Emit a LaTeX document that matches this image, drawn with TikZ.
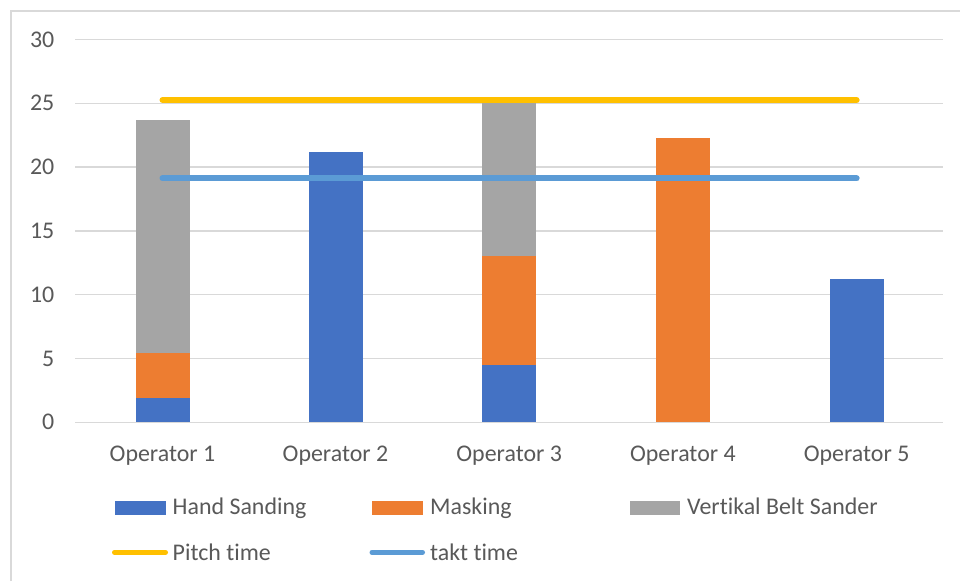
\documentclass[tikz,border=0pt]{standalone}
\usepackage{fontspec}
\setmainfont[Ligatures=NoCommon]{Carlito}
\definecolor{handc}{HTML}{4472C4}
\definecolor{maskc}{HTML}{ED7D31}
\definecolor{beltc}{HTML}{A5A5A5}
\definecolor{pitchc}{HTML}{FFC000}
\definecolor{taktc}{HTML}{5B9BD5}
\definecolor{gridc}{HTML}{D9D9D9}
\definecolor{framec}{HTML}{D9D9D9}
\definecolor{textc}{HTML}{595959}
\tikzset{
  gridline/.style={gridc, line width=1.5pt},
  hand/.style={fill=handc},
  mask/.style={fill=maskc},
  belt/.style={fill=beltc},
  pitchline/.style={pitchc, line width=6pt, line cap=round},
  taktline/.style={taktc, line width=6pt, line cap=round},
  legline/.style={line width=5pt, line cap=round},
  lbl/.style={text=textc, inner sep=0pt},
}
\begin{document}
\begin{tikzpicture}[x=1pt, y=-1pt, font=\fontsize{23.9}{28}\selectfont]
\useasboundingbox (0,0) rectangle (960,581);
\fill[white] (0,0) rectangle (960,581);
% chart frame (top and left edges)
\draw[framec, line width=2pt] (11,581) -- (11,11) -- (960,11);

% plot area: value axis scaled so that 1 unit = 12.76pt
\begin{scope}[shift={(0,422.3)}, y=12.76pt]
  % horizontal gridlines and value labels
  \foreach \v in {0,5,...,30} {
    \draw[gridline] (75.3,\v) -- (943.3,\v);
    \node[lbl, anchor=east] (ylab\v) at (54.5,\v) {\v};
  }
  % Operator 1
  \fill[hand] (135.5,0) rectangle (189.5,1.9);
  \fill[mask] (135.5,1.9) rectangle (189.5,5.42);
  \fill[belt] (135.5,5.42) rectangle (189.5,23.67);
  % Operator 2
  \fill[hand] (308.5,0) rectangle (362.5,21.16);
  % Operator 3
  \fill[hand] (482.2,0) rectangle (536.2,4.49);
  \fill[mask] (482.2,4.49) rectangle (536.2,13.03);
  \fill[belt] (482.2,13.03) rectangle (536.2,25.0);
  % Operator 4
  \fill[mask] (655.9,0) rectangle (709.9,22.26);
  % Operator 5
  \fill[hand] (829.6,0) rectangle (883.6,11.21);
  % reference lines
  \coordinate (pitchA) at (162.5,25.25);
  \coordinate (pitchB) at (856.6,25.25);
  \coordinate (taktA) at (162.5,19.11);
  \coordinate (taktB) at (856.6,19.11);
  \draw[pitchline] (pitchA) -- (pitchB);
  \draw[taktline] (taktA) -- (taktB);
\end{scope}

% category labels
\node[lbl, anchor=base] (cat1) at (162.5,461.5) {Operator 1};
\node[lbl, anchor=base] (cat2) at (335.5,461.5) {Operator 2};
\node[lbl, anchor=base] (cat3) at (509.2,461.5) {Operator 3};
\node[lbl, anchor=base] (cat4) at (682.9,461.5) {Operator 4};
\node[lbl, anchor=base] (cat5) at (856.6,461.5) {Operator 5};

% legend
\fill[hand] (115,501) rectangle (166,515);
\node[lbl, anchor=base west] (legHand) at (172.5,514.3) {Hand Sanding};
\fill[mask] (372,501) rectangle (423,515);
\node[lbl, anchor=base west] (legMask) at (430,514.3) {Masking};
\fill[belt] (629.5,501) rectangle (680,515);
\node[lbl, anchor=base west] (legBelt) at (687,514.3) {Vertikal Belt Sander};
\coordinate (lpA) at (114.5,552.3);
\coordinate (lpB) at (165.5,552.3);
\draw[legline, pitchc] (lpA) -- (lpB);
\node[lbl, anchor=base west] (legPitch) at (172.5,560) {Pitch time};
\coordinate (ltA) at (372,552.3);
\coordinate (ltB) at (422.5,552.3);
\draw[legline, taktc] (ltA) -- (ltB);
\node[lbl, anchor=base west] (legTakt) at (430,560) {takt time};
\end{tikzpicture}
\end{document}
